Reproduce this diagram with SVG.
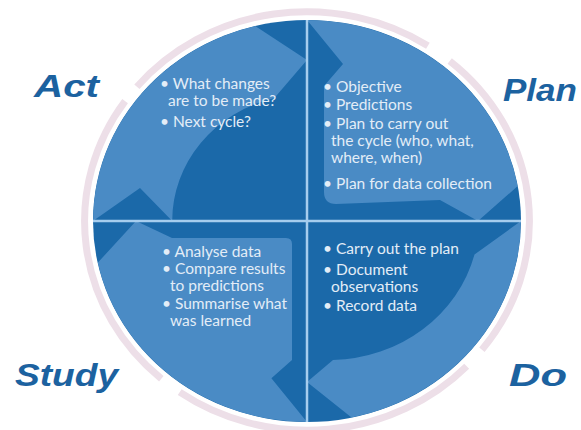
<svg xmlns="http://www.w3.org/2000/svg" width="581" height="430" viewBox="0 0 581 430">
  <style>
    .ring { fill: none; stroke: #eddfe8; stroke-width: 7; }
    .arrow { fill: #4a8bc5; }
    .divider { stroke: #a6cdee; stroke-width: 2.5; }
    .label { font-family: "Liberation Sans", Arial, sans-serif; font-weight: bold; font-style: italic; font-size: 32px; fill: #1c62a0; }
    .item { font-family: Lato, "Open Sans", sans-serif; font-size: 15.5px; fill: #e3edf7; }
  </style>
  <defs>
    <clipPath id="disc-clip">
      <ellipse cx="307" cy="221" rx="214" ry="201"/>
    </clipPath>
  </defs>

  <!-- pale circular arrow ring around the cycle -->
  <g id="ring">
    <path class="ring" d="M 136.9 86.7 A 221 208 0 0 1 427.9 45.7"/>
    <path class="ring" d="M 449.7 60.9 A 221 208 0 0 1 481.9 349.7"/>
    <path class="ring" d="M 466.7 366.2 A 221 208 0 0 1 179.7 392.2"/>
    <path class="ring" d="M 161.3 378.7 A 221 208 0 0 1 125.1 101.1"/>
  </g>

  <!-- the disc with four lighter curved arrows -->
  <g id="disc">
    <ellipse cx="307" cy="221" rx="214" ry="201" fill="#1b69a9"/>
    <g clip-path="url(#disc-clip)">
      <path class="arrow" d="M 93 221 A 214 201 0 0 1 255.2 26 L 307 60 L 274.4 98.1 A 134.8 126.6 0 0 0 172.2 221 L 140 188 Z"/>
      <path class="arrow" d="M 307 20 A 214 201 0 0 1 517.7 186.1 L 478 221 L 440 200 L 336 204 Q 324 204 324 192 L 324 86 L 343 64 Z"/>
      <path class="arrow" d="M 521 221 A 214 201 0 0 1 351.5 417.6 L 307 382 L 333 360 A 150 141 0 0 0 474.5 254.4 Z"/>
      <path class="arrow" d="M 307 422 A 214 201 0 0 1 97.7 262.8 L 136 221 L 172 238 L 286 238 Q 292 238 292 244 L 292 360 L 271.4 378.3 Z"/>
    </g>
  </g>

  <!-- quadrant dividers -->
  <g id="connectors">
    <line class="divider" x1="307" y1="20" x2="307" y2="422"/>
    <line class="divider" x1="93" y1="221" x2="521" y2="221"/>
  </g>

  <g id="act">
    <text class="label" x="34" y="97" textLength="65" lengthAdjust="spacingAndGlyphs">Act</text>
    <text class="item" x="160" y="89">• What changes</text>
    <text class="item" x="168" y="106">are to be made?</text>
    <text class="item" x="160" y="127">• Next cycle?</text>
  </g>

  <g id="plan">
    <text class="label" x="503" y="101" textLength="74" lengthAdjust="spacingAndGlyphs">Plan</text>
    <text class="item" x="323" y="92">• Objective</text>
    <text class="item" x="323" y="110">• Predictions</text>
    <text class="item" x="323" y="129">• Plan to carry out</text>
    <text class="item" x="331" y="146">the cycle (who, what,</text>
    <text class="item" x="331" y="163">where, when)</text>
    <text class="item" x="323" y="189">• Plan for data collection</text>
  </g>

  <g id="do">
    <text class="label" x="509" y="386" textLength="58" lengthAdjust="spacingAndGlyphs">Do</text>
    <text class="item" x="323" y="254">• Carry out the plan</text>
    <text class="item" x="323" y="275">• Document</text>
    <text class="item" x="331" y="292">observations</text>
    <text class="item" x="323" y="311">• Record data</text>
  </g>

  <g id="study">
    <text class="label" x="15" y="386" textLength="103" lengthAdjust="spacingAndGlyphs">Study</text>
    <text class="item" x="162" y="257">• Analyse data</text>
    <text class="item" x="162" y="274">• Compare results</text>
    <text class="item" x="170" y="291">to predictions</text>
    <text class="item" x="162" y="309">• Summarise what</text>
    <text class="item" x="170" y="326">was learned</text>
  </g>
</svg>
